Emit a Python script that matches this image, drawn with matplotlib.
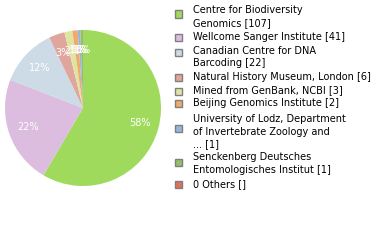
import matplotlib.pyplot as plt
from matplotlib.patches import Rectangle

# Sequencing centres and record counts
labels = ['Centre for Biodiversity\nGenomics [107]',
          'Wellcome Sanger Institute [41]',
          'Canadian Centre for DNA\nBarcoding [22]',
          'Natural History Museum, London [6]',
          'Mined from GenBank, NCBI [3]',
          'Beijing Genomics Institute [2]',
          'University of Lodz, Department\nof Invertebrate Zoology and\n... [1]',
          'Senckenberg Deutsches\nEntomologisches Institut [1]',
          '0 Others []']
counts = [107, 41, 22, 6, 3, 2, 1, 1, 0]
colors = ['#a0da5c', '#dcbcdf', '#cddbe6', '#e0a59c', '#dfe4a0',
          '#f0aa6c', '#96b6dc', '#98bd6c', '#dc7358']
square_y = [14, 37, 52.5, 77.5, 91, 103.5, 128, 162, 184]
baseline_y = [13, 40, 53.5, 80, 93, 105.5, 122, 160, 187]

W, H = 380, 240
fig = plt.figure(figsize=(3.8, 2.4), dpi=100)

# pie: centre (83, 108), radius 78 in pixels
cx, cy, r = 83, 108, 78
ax = fig.add_axes([(cx - r) / W, 1 - (cy + r) / H, 2 * r / W, 2 * r / H])
ax.pie(counts, colors=colors, startangle=90, counterclock=False,
       autopct=lambda p: '%d%%' % round(p), pctdistance=0.75,
       textprops={'color': 'white', 'fontsize': 7},
       wedgeprops={'linewidth': 0})
ax.set_xlim(-1, 1)
ax.set_ylim(-1, 1)
ax.set_aspect('auto')

# legend drawn by hand, one text per line
for lab, col, sy, by in zip(labels, colors, square_y, baseline_y):
    fig.patches.append(Rectangle((175 / W, 1 - (sy + 3.5) / H), 7 / W, 7 / H,
                                 transform=fig.transFigure, facecolor=col,
                                 edgecolor='#7f7f7f', linewidth=1))
    for i, line in enumerate(lab.split('\n')):
        fig.text(193 / W, 1 - (by + i * 12.7) / H, line, fontsize=7,
                 va='baseline', ha='left', color='black')

fig.savefig('out.png', dpi=100)
